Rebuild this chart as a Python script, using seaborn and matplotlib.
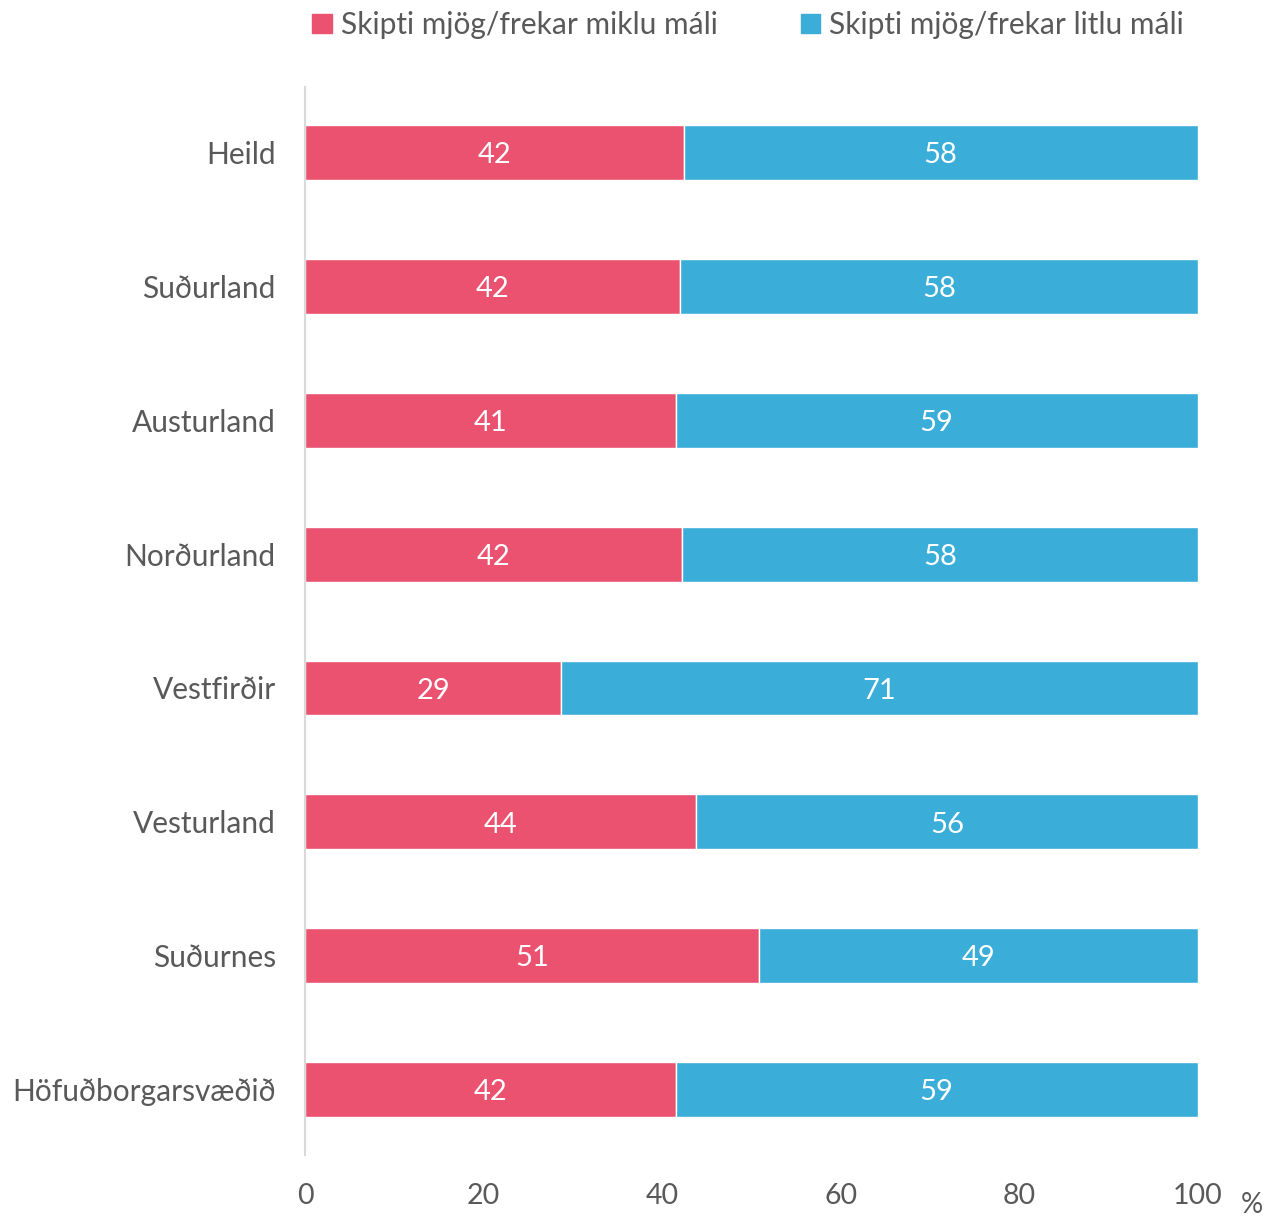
import pandas as pd
import numpy as np
import matplotlib.pyplot as plt
import seaborn as sns
from matplotlib.patches import Patch

regions = ["Heild", "Suðurland", "Austurland", "Norðurland", "Vestfirðir",
           "Vesturland", "Suðurnes", "Höfuðborgarsvæðið"]
miklu = [42.4, 42.0, 41.5, 42.2, 28.7, 43.8, 50.8, 41.5]
litlu = [57.6, 58.0, 58.5, 57.8, 71.3, 56.2, 49.2, 58.5]
miklu_labels = ["42", "42", "41", "42", "29", "44", "51", "42"]
litlu_labels = ["58", "58", "59", "58", "71", "56", "49", "59"]
series_names = ["Skipti mjög/frekar miklu máli", "Skipti mjög/frekar litlu máli"]
ticks = [0, 20, 40, 60, 80, 100]

red = "#EA5270"
blue = "#3AADD9"
grey = "#595959"

sns.set_style("white")
plt.rcParams["font.family"] = ["Lato", "DejaVu Sans"]

da = pd.DataFrame({"region": regions, "miklu": miklu, "litlu": litlu})

fig = plt.figure(figsize=(12.79, 12.17), dpi=100)
ax = fig.add_axes([0.2385, 0.0509, 0.698, 0.8776])

sns.barplot(data=da, y="region", x="miklu", color=red, saturation=1,
            width=0.41, edgecolor="white", linewidth=1, ax=ax, orient="h")
sns.barplot(data=da, y="region", x="litlu", left=da["miklu"], color=blue,
            saturation=1, width=0.41, edgecolor="white", linewidth=1, ax=ax,
            orient="h")

# labels centred in each segment, nudged slightly down like the original
for cont, labs in zip(ax.containers, [miklu_labels, litlu_labels]):
    for bar, lab in zip(cont, labs):
        ax.annotate(lab, (bar.get_x() + bar.get_width() / 2,
                          bar.get_y() + bar.get_height() / 2),
                    xytext=(0, -2), textcoords="offset points",
                    ha="center", va="center", color="white", fontsize=21)

ax.set_xlim(0, 100)
ax.set_ylim(7.49, -0.49)
ax.set_xticks(ticks)
ax.set_xticklabels([str(t) for t in ticks])
ax.set_xlabel("")
ax.set_ylabel("")
ax.tick_params(axis="both", length=0, labelcolor=grey)
ax.tick_params(axis="x", pad=20, labelsize=20.5)
ax.tick_params(axis="y", pad=21, labelsize=21.5)
for s in ["top", "right", "bottom"]:
    ax.spines[s].set_visible(False)
ax.spines["left"].set_color("#D9D9D9")
ax.spines["left"].set_linewidth(1.5)

fig.text(1252 / 1279, 1 - 1205 / 1217, "%", fontsize=20, color=grey,
         ha="center", va="center")

handles = [Patch(color=red), Patch(color=blue)]
fig.legend(handles, series_names, loc="center", bbox_to_anchor=(0.585, 1 - 25 / 1217),
           ncol=2, frameon=False, fontsize=21.5, labelcolor=grey,
           handlelength=0.65, handleheight=0.65, handletextpad=0.3,
           columnspacing=2.8)

fig.savefig("out.png", dpi=100)
